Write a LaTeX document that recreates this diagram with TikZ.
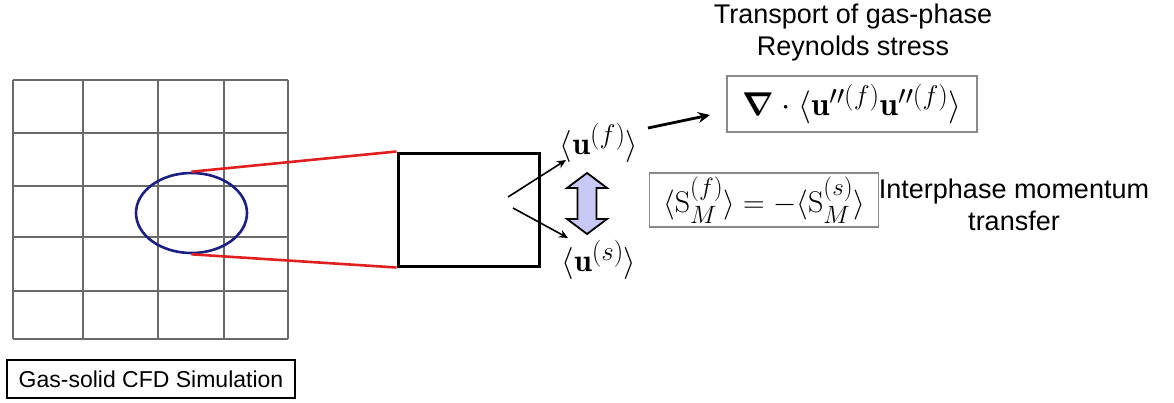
\RequirePackage{fix-cm}
\documentclass[tikz,border=0pt]{standalone}
\usepackage{amsmath,bm}
\usepackage{fontspec}
\newfontfamily\arial{Liberation Sans}
\DeclareMathSizes{30}{30}{25}{20}
\DeclareMathSizes{32}{32}{27}{21}
\DeclareMathSizes{33}{33}{27}{21}
\usetikzlibrary{shapes.geometric,arrows.meta,calc}
\definecolor{gridgray}{HTML}{6A6A6A}
\definecolor{ellblue}{HTML}{1C1F80}
\definecolor{zred}{HTML}{E02020}
\definecolor{lav}{HTML}{C8C8F4}
\definecolor{boxgray}{HTML}{8A8A8A}
\tikzset{
  gridline/.style={draw=gridgray,line width=1.4pt},
  redline/.style={draw=zred,line width=2.6pt},
  thinarrow/.style={draw=black,line width=1.6pt,-{Stealth[length=9pt,width=8pt]}},
  thickarrow/.style={draw=black,line width=2.8pt,-{Stealth[length=12pt,width=11pt]}},
  eqbox/.style={draw=boxgray,line width=1.6pt,inner sep=0pt},
  label27/.style={font=\arial\fontsize{27}{32}\selectfont,align=center,inner sep=0pt},
  mathlab/.style={font=\fontsize{32}{36}\selectfont,inner sep=0pt}
}
\begin{document}
\begin{tikzpicture}[x=1pt,y=-1pt]
\useasboundingbox (0,0) rectangle (1174,402);
% grid
\foreach \xx in {13,83,158,224,288} \draw[gridline] (\xx,80) -- (\xx,339);
\foreach \yy in {80,133,186,237,291,339} \draw[gridline] (13,\yy) -- (288,\yy);
% ellipse
\node[ellipse,draw=ellblue,line width=2.6pt,minimum width=111pt,minimum height=80pt,inner sep=0pt] (ell) at (191.5,213) {};
% zoom box
\node[draw=black,line width=3pt,minimum width=141pt,minimum height=113pt,inner sep=0pt] (zoom) at (468.5,209.5) {};
\draw[redline] (ell.north) -- (zoom.north west);
\draw[redline] (ell.south) -- (zoom.south west);
% velocity labels
\node[mathlab] (uf) at (599,143) {$\langle\mathbf{u}^{(f)}\rangle$};
\node[mathlab] (us) at (599,260) {$\langle\mathbf{u}^{(s)}\rangle$};
\coordinate (c1) at (508,197);
\coordinate (c2) at (513,208);
\coordinate (e1) at (566,160);
\coordinate (e2) at (568,238);
\draw[thinarrow] (c1) -- (e1);
\draw[thinarrow] (c2) -- (e2);
% double arrow between the two velocities
\coordinate (dbl) at (587,203.5);
\draw[black,line width=1.8pt,fill=lav,line join=miter]
  ($(dbl)+(0,-30.5)$) -- ++(20,15) -- ++(-10.5,0) -- ++(0,31) -- ++(10.5,0)
  -- ($(dbl)+(0,30.5)$) -- ++(-20,-15) -- ++(10.5,0) -- ++(0,-31) -- ++(-10.5,0) -- cycle;
% Reynolds stress
\node[label27] (title) at (853,33) {Transport of gas-phase\\Reynolds stress};
\node[eqbox,minimum width=250pt,minimum height=56pt] (box1) at (852,104) {\fontsize{33}{36}\selectfont$\bm{\nabla}\cdot\langle\mathbf{u}''^{(f)}\mathbf{u}''^{(f)}\rangle$};
\coordinate (a1) at (648,128);
\coordinate (a2) at (710,115);
\draw[thickarrow] (a1) -- (a2);
% interphase
\node[eqbox,minimum width=229pt,minimum height=54pt] (box2) at (764,200) {\fontsize{30}{34}\selectfont$\langle\mathrm{S}^{(f)}_{M}\rangle=-\langle\mathrm{S}^{(s)}_{M}\rangle$};
\node[label27] (inter) at (1014,205) {Interphase momentum\\transfer};
% caption box
\node[draw=black,line width=2.2pt,minimum width=288pt,minimum height=38pt,inner sep=0pt,font=\arial\fontsize{23}{27}\selectfont] (cap) at (151,379) {Gas-solid CFD Simulation};
\end{tikzpicture}
\end{document}
